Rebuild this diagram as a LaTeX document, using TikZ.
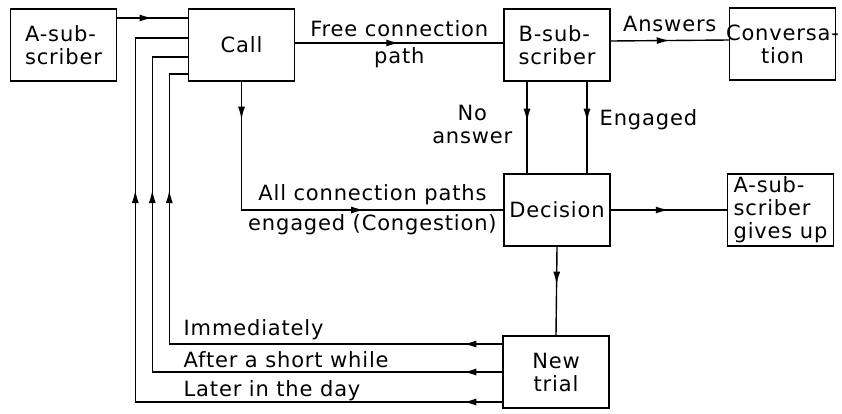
\documentclass[tikz,border=0pt]{standalone}
\usepackage{fontspec}
\setmainfont{DejaVu Sans}[LetterSpace=4]
\usepackage{tikz}
\usetikzlibrary{arrows.meta,decorations.markings}
\tikzset{>=Latex, flowtip/.tip={Latex[length=13pt,width=7pt]}}

\begin{document}
\begin{tikzpicture}[x=1pt, y=-1pt, line width=1.4pt,
        tip at/.style={postaction={decorate, decoration={markings,
            mark=at position #1 with {\arrow{flowtip}}}}}]
                % 1 unit = 1pt, y grows downwards
                \useasboundingbox (0,0) rectangle (842,413);
                \fontsize{21}{23}\selectfont
                \tikzstyle{box}=[draw, minimum width=106pt, minimum height=72pt, inner sep=1pt]
                \tikzstyle{lbl}=[inner sep=2pt]

                % blocks
                \node[box, align=left] (asub) at (63.5,45) {A-sub-\\scriber};
                \node[box] (call) at (241.5,45) {Call};
                \node[box, align=left] (bsub) at (557,45) {B-sub-\\scriber};
                \node[box, align=center] (conv) at (782.5,44) {\makebox[96pt]{Conversa-}\\tion};
                \node[box] (dec) at (557,210) {Decision};
                \node[box, align=left] (quit) at (780.5,210) {A-sub-\\scriber\\gives up};
                \node[box, align=center] (trial) at (556,372) {New\\trial};

                % forward flow
                \draw[tip at=0.5] ([yshift=27pt]asub.east) -- ([yshift=27pt]call.west);
                \draw[tip at=0.5] ([yshift=2pt]call.east) -- ([yshift=2pt]bsub.west)
                        node[midway, above=4pt, lbl] {Free connection}
                        node[midway, below=2pt, lbl] {path};
                \draw[tip at=0.5] ([yshift=4pt]bsub.east) -- ([yshift=4pt]conv.west)
                        node[midway, above=6pt, lbl] {Answers};
                \draw[tip at=38pt, tip at=251pt] (call.south) |- (dec.west)
                        node[pos=0.75, above=2pt, lbl] {All connection paths}
                        node[pos=0.75, below=2pt, lbl] {engaged (Congestion)};
                \draw[tip at=40pt] ([xshift=-30pt]bsub.south) -- ([xshift=-30pt]dec.north)
                        node[pos=0.47, left=12pt, lbl, align=center] {No\\answer};
                \draw[tip at=40pt] ([xshift=30pt]bsub.south) -- ([xshift=30pt]dec.north)
                        node[pos=0.42, right=10pt, lbl] {Engaged};
                \draw[tip at=0.5] (dec.east) -- (quit.west);
                \draw[tip at=38pt] (dec.south) -- (trial.north);

                % retries back to the call
                \draw[tip at=39pt, tip at=487pt] ([yshift=28pt]trial.west) -- ++(-333,0)
                        |- ([yshift=-29pt]call.west);
                \draw[tip at=39pt, tip at=532pt] (trial.west) -- ++(-350,0)
                        |- ([yshift=-12pt]call.west);
                \draw[tip at=39pt, tip at=579pt] ([yshift=-30pt]trial.west) -- ++(-367,0)
                        |- ([yshift=7pt]call.west);

                \node[lbl, anchor=base west] (now) at (181,335) {Immediately};
                \node[lbl, anchor=base west] (soon) at (181,367) {After a short while};
                \node[lbl, anchor=base west] (later) at (181,396) {Later in the day};
\end{tikzpicture}
\end{document}
